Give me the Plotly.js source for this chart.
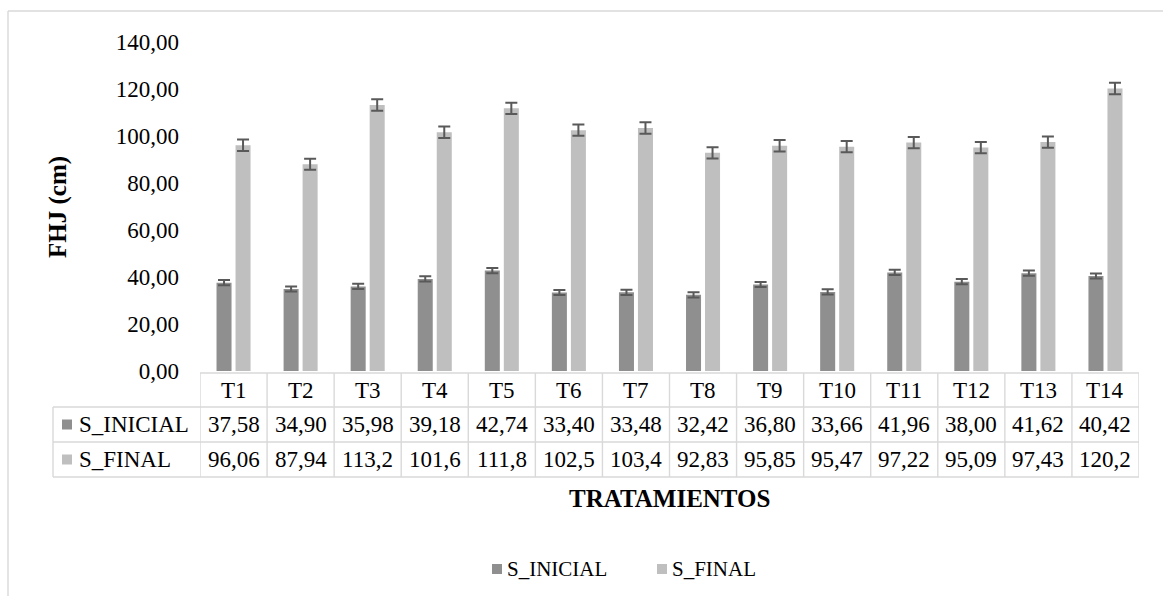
<!DOCTYPE html>
<html>
<head>
<meta charset="utf-8">
<script src="https://cdn.plot.ly/plotly-3.0.1.min.js"></script>
<style>html,body{margin:0;padding:0;background:#fff;}#chart{width:1163px;height:596px;}</style>
</head>
<body>
<div id="chart"></div>
<script>
var categories = ['T1','T2','T3','T4','T5','T6','T7','T8','T9','T10','T11','T12','T13','T14'];
var seriesNames = ['S_INICIAL','S_FINAL'];
var sInicial = [37.58,34.90,35.98,39.18,42.74,33.40,33.48,32.42,36.80,33.66,41.96,38.00,41.62,40.42];
var sFinal = [96.06,87.94,113.2,101.6,111.8,102.5,103.4,92.83,95.85,95.47,97.22,95.09,97.43,120.2];
var errInicial = [1.1,1.1,1.1,1.1,1.1,1.1,1.1,1.1,1.1,1.1,1.1,1.1,1.1,1.1];
var errFinal = [2.4,2.35,2.45,2.4,2.4,2.4,2.45,2.4,2.4,2.4,2.4,2.4,2.4,2.45];
var yTicks = [0,20,40,60,80,100,120,140];

var colInicial = '#8f8f8f';
var colFinal = '#bfbfbf';
var errCol = '#595959';
var gridCol = '#d9d9d9';
var FONT = '"Liberation Serif", "Times New Roman", Times, "DejaVu Serif", serif';

function fmtInicial(v){ return v.toFixed(2).replace('.', ','); }
function fmtFinal(v){ return v.toPrecision(4).replace('.', ','); }

var traces = [
  {type:'bar', name:seriesNames[0], x:categories, y:sInicial, marker:{color:colInicial},
   error_y:{type:'data', array:errInicial, visible:true, color:errCol, thickness:2, width:6}, showlegend:false},
  {type:'bar', name:seriesNames[1], x:categories, y:sFinal, marker:{color:colFinal},
   error_y:{type:'data', array:errFinal, visible:true, color:errCol, thickness:2, width:6}, showlegend:false}
];

var PL=200, PR=1139, PT=42, PB=371;
function px2x(p){ return (p-PL)/(PR-PL); }
function px2y(p){ return (PB-p)/(PB-PT); }

var shapes = [];
var annotations = [];
var lineStyle = {color:gridCol, width:1.4};

shapes.push({type:'line', xref:'paper', yref:'paper', x0:px2x(8), x1:px2x(1163), y0:px2y(11), y1:px2y(11), line:lineStyle});
shapes.push({type:'line', xref:'paper', yref:'paper', x0:px2x(8), x1:px2x(8), y0:px2y(11), y1:px2y(596), line:lineStyle});

var rowTop = 373, rowB1 = 407, rowB2 = 442, rowB3 = 477, leftCol = 53;
shapes.push({type:'line', xref:'paper', yref:'paper', x0:0, x1:1, y0:px2y(rowTop), y1:px2y(rowTop), line:lineStyle});
[rowB1,rowB2,rowB3].forEach(function(r){
  shapes.push({type:'line', xref:'paper', yref:'paper', x0:px2x(leftCol), x1:1, y0:px2y(r), y1:px2y(r), line:lineStyle});
});
shapes.push({type:'line', xref:'paper', yref:'paper', x0:px2x(leftCol), x1:px2x(leftCol), y0:px2y(rowB1), y1:px2y(rowB3), line:lineStyle});
for (var k=0;k<=categories.length;k++){
  shapes.push({type:'line', xref:'x', yref:'paper', x0:k-0.5, x1:k-0.5, y0:px2y(rowTop), y1:px2y(rowB3), line:lineStyle});
}

var tableFont = {family:FONT, size:23, color:'#000'};
var yHead = px2y((rowTop+rowB1)/2), yR1 = px2y((rowB1+rowB2)/2), yR2 = px2y((rowB2+rowB3)/2);
categories.forEach(function(c,i){
  annotations.push({x:c, xref:'x', y:yHead, yref:'paper', text:c, showarrow:false, font:tableFont, yanchor:'middle'});
  annotations.push({x:c, xref:'x', y:yR1, yref:'paper', text:fmtInicial(sInicial[i]), showarrow:false, font:tableFont, yanchor:'middle'});
  annotations.push({x:c, xref:'x', y:yR2, yref:'paper', text:fmtFinal(sFinal[i]), showarrow:false, font:tableFont, yanchor:'middle'});
});
[[seriesNames[0], colInicial, (rowB1+rowB2)/2],[seriesNames[1], colFinal, (rowB2+rowB3)/2]].forEach(function(r){
  shapes.push({type:'rect', xref:'paper', yref:'paper', x0:px2x(62), x1:px2x(72), y0:px2y(r[2]-5), y1:px2y(r[2]+5), fillcolor:r[1], line:{width:0}});
  annotations.push({x:px2x(77), xref:'paper', xanchor:'left', y:px2y(r[2]), yref:'paper', text:r[0], showarrow:false, font:tableFont, yanchor:'middle'});
});

annotations.push({x:0.5, xref:'paper', y:px2y(498), yref:'paper', text:'<b>TRATAMIENTOS</b>', showarrow:false, font:{family:FONT, size:25, color:'#000'}, yanchor:'middle'});
annotations.push({x:px2x(58), xref:'paper', y:px2y(207), yref:'paper', text:'<b>FHJ (cm)</b>', textangle:-90, showarrow:false, font:{family:FONT, size:25, color:'#000'}, xanchor:'center', yanchor:'middle'});

var legFont = {family:FONT, size:21, color:'#000'};
[[seriesNames[0], colInicial, 492],[seriesNames[1], colFinal, 657]].forEach(function(l){
  shapes.push({type:'rect', xref:'paper', yref:'paper', x0:px2x(l[2]), x1:px2x(l[2]+10), y0:px2y(564), y1:px2y(574), fillcolor:l[1], line:{width:0}});
  annotations.push({x:px2x(l[2]+13), xref:'paper', xanchor:'left', y:px2y(569), yref:'paper', text:l[0], showarrow:false, font:legFont, yanchor:'middle'});
});

var layout = {
  width:1163, height:596,
  font:{family:FONT},
  margin:{l:PL, r:1163-PR, t:PT, b:596-PB, pad:0},
  paper_bgcolor:'#fff', plot_bgcolor:'#fff',
  separators:',.',
  barmode:'group', bargap:0.433, bargroupgap:0.21,
  showlegend:false,
  xaxis:{type:'category', categoryorder:'array', categoryarray:categories, range:[-0.5, categories.length-0.5],
         showticklabels:false, showgrid:false, zeroline:false, showline:false, ticks:'', fixedrange:true},
  yaxis:{range:[0,140], tickvals:yTicks, tickformat:'.2f', showgrid:false, zeroline:false, showline:false, ticks:'',
         ticklabelstandoff:20, tickfont:{family:FONT, size:23, color:'#000'}, fixedrange:true},
  shapes:shapes,
  annotations:annotations
};

Plotly.newPlot('chart', traces, layout, {displayModeBar:false, staticPlot:true});
</script>
</body>
</html>
